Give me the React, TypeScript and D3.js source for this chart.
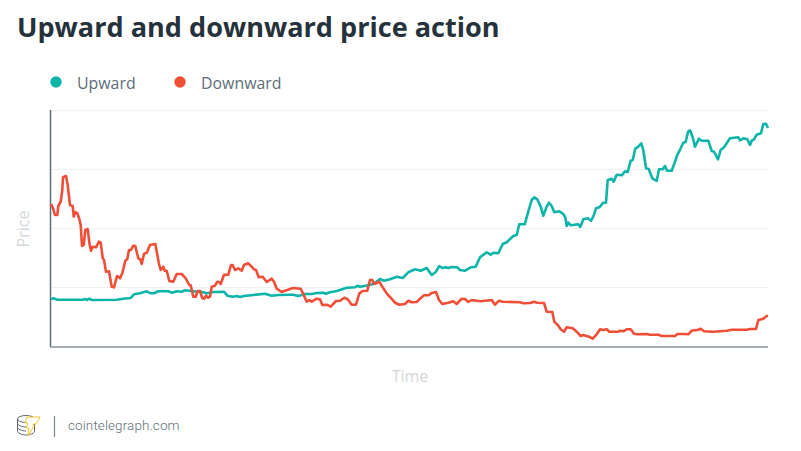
import React from "react";
import * as d3 from "d3";

const title = "Upward and downward price action";
const seriesNames = ["Upward", "Downward"];
const seriesColors = ["#0cb4a9", "#f04e37"];
const priceTicks = [0, 59.25, 118.5, 177.75, 237];
const timeDomain: [number, number] = [0, 717];

// [time, price]
const upward: [number, number][] = [
  [0,48],[3,48.7],[5.7,47.3],[32.3,47.3],[34,48],[35.7,47],[38.3,48.3],[40.7,47],[65.7,47.3],[72.3,48.3],[79.7,49],[83,52.7],[89,53.7],[95.7,55.7],[99.7,53.7],[103,53.7],[107.3,55.7],[117.3,55.7],[121.3,54.3],[125.7,55.7],[130.7,55.3],[134,56.7],[142.3,55.7],[152.3,54.7],[155.7,53.7],[162.3,55],[173,55.3],[176.3,51.3],[181.7,50.3],[185.7,51],[189,50],[193,51],[202.3,52],[214,53.3],[220.7,51.3],[227.3,52],[239,52.3],[242.3,52.3],[247.3,51],[254,53],[260.7,53],[265.7,54],[272.3,54.3],[274.7,53.3],[279,54.7],[285.7,56],[295.7,59.3],[304,59.7],[306.7,61.3],[309,60.3],[317.3,61.7],[322.3,63],[329,68],[333,66.3],[339,67.7],[345.7,70.3],[351.7,69],[357.3,74.7],[364,77.7],[369.7,76.3],[375.7,79],[380.7,72],[384.7,75],[388.3,81],[391.3,79],[394.7,79.7],[397.3,79],[400.7,80],[406.3,79.7],[409,77],[414,76.3],[419.7,79.7],[424.7,80.3],[429,89.7],[435.7,94.7],[439.7,92.3],[442.3,94.3],[447.3,93.7],[451.7,103],[455.7,104.7],[462.3,111],[465.7,112],[468.3,122.7],[473.7,122.7],[477.3,135.3],[480.7,147],[483.3,149.7],[486.3,147.7],[489.7,140.3],[492.3,131.3],[495.7,140.3],[498,144.3],[500.7,141],[503.3,134.7],[508.3,135.7],[512.3,133],[514.3,129.7],[515.7,121],[517.3,124.3],[519.7,121.7],[527.3,122.7],[529.3,120],[532.3,127.7],[536.7,128.7],[540,126.3],[542.3,130.3],[545,138.7],[548.3,139.7],[552.3,144.3],[555,144.3],[556.7,167],[560.7,168.3],[562.7,165.3],[565.7,172.3],[570.7,171.7],[574,175.7],[576.7,175],[579.7,186.3],[581.7,187],[584.3,198.3],[587.3,200.3],[590.3,203.7],[592.3,197],[595,178.7],[597.7,178],[601.3,168.7],[605.7,166],[608,177.7],[611.7,177.7],[614,181],[616,176.3],[620.7,176.3],[624,185.3],[626.3,192],[629.7,198.7],[632.3,204.3],[634.7,205],[637,215.3],[639,216.7],[641.7,209.7],[644,200.3],[648,208.3],[650.7,206.3],[657.3,206.3],[660.7,196],[663,195.3],[667,187.7],[669.7,197],[673,199.7],[679,208.7],[687.3,209.7],[689,206.7],[692.3,208.7],[696.3,207.7],[699,202],[700.7,206.3],[703,207.7],[705.7,212.3],[710,213.7],[712.3,223],[715,223.3],[717,219],
];
const downward: [number, number][] = [
  [0,143],[1.7,139.7],[4,132],[6.3,132],[7.3,141],[9.7,145.3],[11.3,157],[12,169.7],[15,171],[16.7,162],[19,142],[21.7,141],[22.7,130.3],[24.3,135],[26.3,133.7],[28.3,128],[29.7,122],[31,101],[32.7,102],[34.3,117],[36.7,118],[38.7,102],[40,96.3],[41.7,100.3],[45,99.7],[48,105.3],[49.7,104.3],[51.7,89],[53,87],[55,75.3],[58,75.7],[60.7,60.3],[63,59.7],[66,71],[69,68.7],[71.3,73.7],[74.3,86.3],[76.3,88],[78,97],[80,97],[82.3,101.3],[84.3,101],[87.3,88.7],[89.3,87.7],[90.7,83],[93,93],[95.7,94.3],[99,102],[104.3,103],[108,83],[109.7,77],[112.3,80.3],[113.7,76.3],[115.7,76.3],[118.3,66],[122.3,65.3],[125.7,73],[130.7,73],[134.7,68.7],[138.3,62],[139.7,61.7],[142.3,50.3],[144.7,50.3],[146.7,56],[149,56],[151.3,48.7],[153.3,48.3],[155,51.3],[157.3,49.3],[159,50.3],[160.7,60.3],[164,61.3],[166.3,65.3],[168,65],[169.7,63],[173,72.3],[177.3,72.3],[180,82],[181.7,82],[184,77],[187.3,78.7],[190.7,76.3],[193,82],[197.3,83.7],[200.7,80.3],[203,77.7],[205,77],[207.7,69.7],[211.7,70.3],[215.7,65],[220.7,68.3],[223,65.3],[225.7,58.3],[230.7,55],[234,56.3],[236.3,57],[241.7,59],[249.7,58.3],[252.3,53],[255.7,45.3],[258.3,47],[260.7,45.3],[265.7,48.3],[269,47.7],[271.3,42],[275.7,42.3],[279.7,40.3],[285,46],[289,46.3],[293.3,49.3],[296.7,47.7],[300.7,42.3],[305,42.3],[308.3,53.7],[311.7,56],[316.3,56.3],[319,67],[321.3,67],[323.3,63],[328.3,65.3],[331.3,60.3],[335.7,53.7],[344,44.3],[348.3,42.3],[354,43],[357.3,46.3],[360.7,44.7],[365.7,45],[369,48.3],[373,51.7],[377.3,51.7],[381.3,54.3],[385,55],[388,47],[391.3,43],[397.3,44.3],[402.3,45.7],[405.7,43],[410.7,48.3],[414,48],[417.3,45],[420.7,47],[429,45.7],[440.7,47],[444,42.3],[448,46.3],[451.7,45.3],[469,44.7],[472.3,43.7],[479,44],[483,45.3],[486.3,44.3],[493,44],[495.7,35.3],[501.3,35],[503.3,25.3],[507.3,21.3],[509.7,17.7],[513,15.3],[515.7,19.7],[521.7,18.7],[525.7,15.3],[529.7,11],[532.3,12],[538,10.3],[541.7,8.3],[545.7,12.7],[549,17.7],[552.3,17],[555.7,17.7],[558.3,15.3],[567.3,15.3],[569,16.3],[572.3,15.7],[575.7,17.7],[579.7,17.7],[583,13.3],[586.3,12.7],[595.7,13],[599,12.3],[607.3,12.3],[610.7,11],[624,11],[626.3,13],[632.3,13],[637.3,12.7],[640.7,16.3],[647.3,17.3],[649.7,18.3],[653,15.7],[662.3,15.3],[675.7,16.3],[680.7,17.3],[695.7,17.3],[699,18],[705,18],[707.3,27],[712.3,28.3],[715.7,31],[717,31.3],
];

const x = d3.scaleLinear().domain(timeDomain).range([51, 768]);
const y = d3.scaleLinear().domain([0, 237]).range([347, 110]);
const line = d3.line<[number, number]>().x((d) => x(d[0])).y((d) => y(d[1])).curve(d3.curveLinear);

const font = "'Open Sans', sans-serif";

export default function App() {
  return (
    <svg width={801} height={451} viewBox="0 0 801 451" style={{ position: "absolute", left: 0, top: 0, background: "#fff" }}>
      <text x={17} y={37} fontFamily={font} fontWeight={700} fontSize={27.1} fill="#26323b">{title}</text>

      <circle cx={56} cy={82} r={5.7} fill={seriesColors[0]} />
      <text x={77} y={88.5} fontFamily={font} fontSize={15.9} fill="#5d6d79">{seriesNames[0]}</text>
      <circle cx={180} cy={82} r={5.7} fill={seriesColors[1]} />
      <text x={201} y={88.5} fontFamily={font} fontSize={15.9} fill="#5d6d79">{seriesNames[1]}</text>

      {priceTicks.slice(1).map((t) => (
        <line key={t} x1={51} x2={768} y1={Math.floor(y(t)) + 0.5} y2={Math.floor(y(t)) + 0.5} stroke="#f0f1f2" strokeWidth={1} />
      ))}
      <line x1={50.5} x2={50.5} y1={110} y2={347} stroke="#5f6f7a" strokeWidth={1.5} />
      <line x1={50} x2={768} y1={347} y2={347} stroke="#87939a" strokeWidth={1.5} />

      <path d={line(upward) ?? ""} fill="none" stroke={seriesColors[0]} strokeWidth={2.6} strokeLinejoin="round" />
      <path d={line(downward) ?? ""} fill="none" stroke={seriesColors[1]} strokeWidth={2.6} strokeLinejoin="round" />

      <text transform="translate(29,229) rotate(-90)" textAnchor="middle" fontFamily={font} fontSize={16} fill="#d3d8db">Price</text>
      <text x={410} y={382} textAnchor="middle" fontFamily={font} fontSize={16} fill="#d3d8db">Time</text>

      <g fill="none" strokeWidth={1}>
        <g stroke="#5e6a72">
          <ellipse cx={26} cy={419} rx={8.5} ry={3.5} />
          <path d="M17.5 419v12c0 2 3.8 4 8.5 4s8.5-2 8.5-4v-12" />
          <path d="M17.5 423c0 2 3.8 4 8.5 4M17.5 427c0 2 3.8 4 8.5 4" />
        </g>
        <path d="M27 417h13l-4 7h-3l1 2-6 10 1-8h-3l2-5h-3z" stroke="#f5c533" fill="#fff" />
      </g>
      <line x1={54.5} x2={54.5} y1={416} y2={437} stroke="#7d8a92" strokeWidth={1.2} />
      <text x={68} y={430} fontFamily="Roboto, sans-serif" fontWeight={300} fontSize={13.5} letterSpacing={0.1} fill="#5f6f7a">cointelegraph.com</text>
    </svg>
  );
}
